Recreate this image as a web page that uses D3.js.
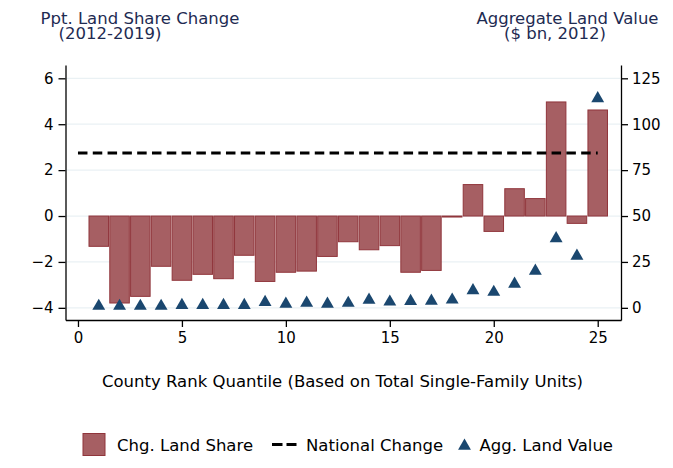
<!DOCTYPE html>
<html>
<head>
<meta charset="utf-8">
<script src="https://cdn.jsdelivr.net/npm/d3@7"></script>
<style>
  body { margin: 0; background: #fff; }
  text { font-family: "DejaVu Sans", sans-serif; }
</style>
</head>
<body>
<svg id="chart" width="673" height="468"></svg>
<script>
// data
var quantiles = d3.range(1, 26)
var landShareChg = [-1.32, -3.79, -3.50, -2.19, -2.80, -2.54, -2.73, -1.71, -2.85, -2.45,
                    -2.40, -1.76, -1.12, -1.47, -1.29, -2.45, -2.37, -0.04, 1.37, -0.67,
                    1.19, 0.76, 4.97, -0.32, 4.62]
var aggLandValue = [1.5, 1.5, 1.5, 1.5, 2.0, 2.0, 2.0, 2.0, 3.6, 2.6,
                    3.2, 2.6, 3.1, 4.8, 3.8, 4.1, 4.3, 4.9, 10.0, 9.1,
                    13.5, 20.6, 38.3, 28.8, 114.6]
var nationalChange = 2.745
var xTicks = [0, 5, 10, 15, 20, 25]
var yLeftTicks = [-4, -2, 0, 2, 4, 6]
var yRightTicks = [0, 25, 50, 75, 100, 125]

var svg = d3.select("#chart")
var plot = {left: 65.5, right: 621, top: 65, bottom: 320}

var x = d3.scaleLinear().domain([-0.6, 26.12]).range([plot.left, plot.right])
var yL = d3.scaleLinear().domain([-4.53, 6.58]).range([plot.bottom, plot.top])
// right axis lines up with left: right = 50 + 12.5 * left
var yR = d3.scaleLinear().domain([50 + 12.5 * -4.53, 50 + 12.5 * 6.58]).range([plot.bottom, plot.top])

var barFill = "#a65f63", barStroke = "#90353b", navy = "#1a476f", titleCol = "#1e2b52"
var bigFont = 16.5

// gridlines
svg.append("g").selectAll("line").data(yLeftTicks).enter().append("line")
  .attr("x1", plot.left + 1).attr("x2", plot.right - 1)
  .attr("y1", d => yL(d)).attr("y2", d => yL(d))
  .attr("stroke", "#eaf1f4").attr("stroke-width", 1.2)

// bars
var bw = x(0.94) - x(0)
svg.append("g").selectAll("rect").data(quantiles).enter().append("rect")
  .attr("x", (d, i) => x(d) - bw / 2)
  .attr("width", bw)
  .attr("y", (d, i) => yL(Math.max(0, landShareChg[i])))
  .attr("height", (d, i) => Math.max(1, Math.abs(yL(landShareChg[i]) - yL(0))))
  .attr("fill", barFill).attr("stroke", barStroke).attr("stroke-width", 1)

// national change dashed line
svg.append("line")
  .attr("x1", x(0)).attr("x2", x(25))
  .attr("y1", yL(nationalChange)).attr("y2", yL(nationalChange))
  .attr("stroke", "#000").attr("stroke-width", 3.2)
  .attr("stroke-dasharray", "9.5,5.3")

// triangles on right axis
var tri = d3.symbol().type(d3.symbolTriangle).size(72)
svg.append("g").selectAll("path").data(quantiles).enter().append("path")
  .attr("d", tri)
  .attr("transform", (d, i) => "translate(" + x(d) + "," + (yR(aggLandValue[i]) + 1) + ")")
  .attr("fill", navy)

// axes
var axL = svg.append("g").attr("transform", "translate(" + plot.left + ",0)")
  .call(d3.axisLeft(yL).tickValues(yLeftTicks).tickSize(7).tickPadding(5).tickSizeOuter(0))
var axR = svg.append("g").attr("transform", "translate(" + plot.right + ",0)")
  .call(d3.axisRight(yR).tickValues(yRightTicks).tickSize(7).tickPadding(4).tickSizeOuter(0))
var axB = svg.append("g").attr("transform", "translate(0," + plot.bottom + ")")
  .call(d3.axisBottom(x).tickValues(xTicks).tickSize(7).tickPadding(5).tickSizeOuter(0))

;[axL, axR, axB].forEach(function(g){
  g.selectAll("text").attr("font-size", 15).attr("fill", "#000")
    .attr("font-family", "DejaVu Sans, sans-serif")
  g.select(".domain").attr("stroke", "#000").attr("stroke-width", 1.3)
  g.selectAll(".tick line").attr("stroke", "#000").attr("stroke-width", 1.3)
})

// titles (two tight lines, as in the original)
function title(lines, cx, y) {
  lines.forEach(function(l, i){
    svg.append("text").attr("fill", titleCol).attr("font-size", bigFont)
      .attr("x", cx[i]).attr("y", y + i * 14.5).attr("text-anchor", "middle").text(l)
  })
}
title(["Ppt. Land Share Change", "(2012-2019)"], [140, 110], 24)
title(["Aggregate Land Value", "($ bn, 2012)"], [567.5, 555], 24)

svg.append("text").attr("x", 342.5).attr("y", 387).attr("text-anchor", "middle")
  .attr("font-size", bigFont).attr("fill", "#000")
  .text("County Rank Quantile (Based on Total Single-Family Units)")

// legend
var leg = svg.append("g")
leg.append("rect").attr("x", 83).attr("y", 433.5).attr("width", 22).attr("height", 22)
  .attr("fill", barFill).attr("stroke", barStroke).attr("stroke-width", 1)
leg.append("text").attr("x", 117).attr("y", 451).attr("font-size", bigFont).text("Chg. Land Share")
leg.append("line").attr("x1", 272).attr("x2", 296.5).attr("y1", 444.5).attr("y2", 444.5)
  .attr("stroke", "#000").attr("stroke-width", 3.2).attr("stroke-dasharray", "10.5,4")
leg.append("text").attr("x", 306).attr("y", 451).attr("font-size", bigFont).text("National Change")
leg.append("path").attr("d", tri).attr("transform", "translate(464.5,446)").attr("fill", navy)
leg.append("text").attr("x", 479.5).attr("y", 451).attr("font-size", bigFont).text("Agg. Land Value")
</script>
</body>
</html>
